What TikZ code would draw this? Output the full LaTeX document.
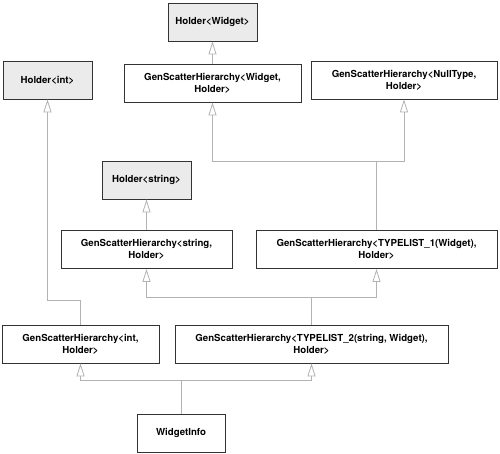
\documentclass[tikz,border=0pt]{standalone}
\usepackage{fontspec}
\setmainfont{TeX Gyre Heros}
\usetikzlibrary{arrows.meta}
\begin{document}
\begin{tikzpicture}[x=1bp, y=-1bp,
  box/.style={draw=black!80, line width=0.8bp, minimum height=38bp, inner sep=0pt,
    align=center, font=\fontsize{9.7}{12}\selectfont\bfseries},
  holder/.style={box, fill=black!8, minimum width=89bp},
  gsh/.style={box, fill=white},
  link/.style={draw=black!30, line width=0.8bp},
  inh/.style={link, -{Triangle[length=13bp, width=8bp, fill=white]}}]
\useasboundingbox (0,0) rectangle (500,454);
\foreach \n/\x/\y/\t in {HW/212.5/22/Widget, HI/47.5/80/int, HS/146.5/180/string}
{
  \node[holder] (\n) at (\x,\y) {Holder<\t>};
}
\node[gsh, minimum width=177bp] (GW) at (212.5,83) {GenScatterHierarchy<Widget,\\Holder>};
\node[gsh, minimum width=186bp] (GN) at (404,80) {GenScatterHierarchy<NullType,\\Holder>};
\node[gsh, minimum width=171bp] (GS) at (146.5,249.5) {GenScatterHierarchy<string,\\Holder>};
\node[gsh, minimum width=241bp] (G1) at (376.5,249.5) {GenScatterHierarchy<TYPELIST\_1(Widget),\\Holder>};
\node[gsh, minimum width=157bp] (GI) at (80.5,344) {GenScatterHierarchy<int,\\Holder>};
\node[gsh, minimum width=273bp] (G2) at (311.5,344) {GenScatterHierarchy<TYPELIST\_2(string, Widget),\\Holder>};
\node[gsh, minimum width=88bp] (WI) at (181,433) {WidgetInfo};
% junctions
\coordinate (J1) at (376.5,161);
\coordinate (J2) at (311.5,297);
\coordinate (J3) at (181,380);
\coordinate (J4) at (80.5,300);
\draw[inh] (GW) -- (HW);
\draw[inh] (GS) -- (HS);
\draw[link] (G1) -- (J1);
\draw[inh] (J1) -| (GW.south);
\draw[inh] (J1) -| (GN.south);
\draw[link] (G2) -- (J2);
\draw[inh] (J2) -| (GS.south);
\draw[inh] (J2) -| (G1.south);
\draw[inh] (GI.north) -- (J4) -| (HI.south);
\draw[link] (WI) -- (J3);
\draw[inh] (J3) -| (GI.south);
\draw[inh] (J3) -| (G2.south);
\end{tikzpicture}
\end{document}
